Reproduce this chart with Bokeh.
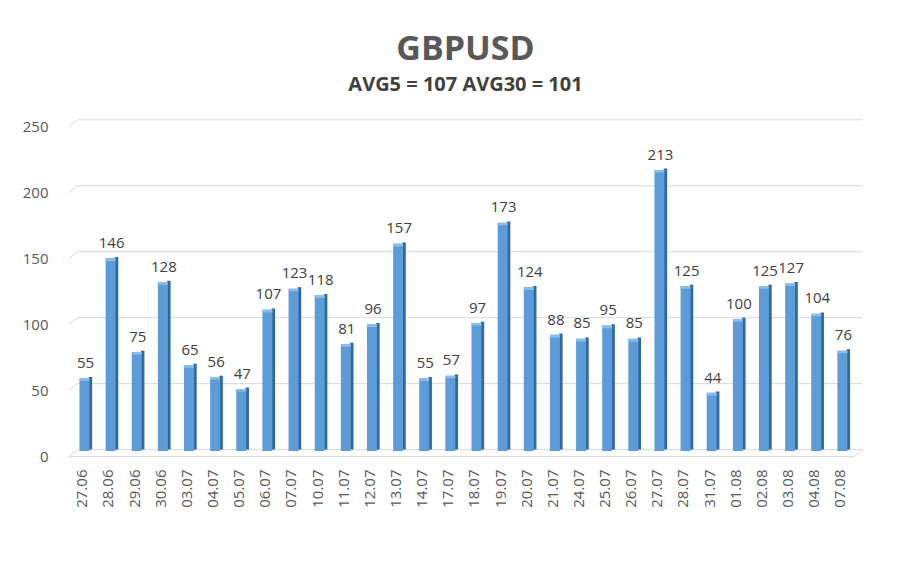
import numpy as np
from bokeh.plotting import figure
from bokeh.models import Range1d, FixedTicker, LinearAxis, Title
from bokeh.embed import file_html
from bokeh.resources import INLINE
from bokeh.core.properties import value

# ---- data ----
dates = ["27.06", "28.06", "29.06", "30.06", "03.07", "04.07", "05.07", "06.07",
         "07.07", "10.07", "11.07", "12.07", "13.07", "14.07", "17.07", "18.07",
         "19.07", "20.07", "21.07", "24.07", "25.07", "26.07", "27.07", "28.07",
         "31.07", "01.08", "02.08", "03.08", "04.08", "07.08"]
values = [55, 146, 75, 128, 65, 56, 47, 107, 123, 118, 81, 96, 157, 55, 57, 97,
          173, 124, 88, 85, 95, 85, 213, 125, 44, 100, 125, 127, 104, 76]
yticks = [0, 50, 100, 150, 200, 250]
title_text = "GBPUSD"
subtitle_text = "AVG5 = 107 AVG30 = 101"

FONT = "Open Sans"
idx = np.arange(len(values))
depth = 5.3  # perspective depth in y units
xr = (-0.65, 29.73)

p = figure(frame_width=794, frame_height=339,
           x_range=Range1d(*xr), y_range=Range1d(-6, 251),
           output_backend="svg", toolbar_location=None, y_axis_location=None,
           x_axis_location=None,
           min_border_left=68, min_border_right=22, min_border_top=118,
           min_border_bottom=84, background_fill_color="white",
           border_fill_color="white", outline_line_color=None)

# titles (subtitle first -> closer to plot)
p.add_layout(Title(text=subtitle_text, align="center", text_font=FONT,
                   text_font_size="20px", text_font_style="bold",
                   text_color="#404040", standoff=44), "above")
p.add_layout(Title(text=title_text, align="center", text_font=FONT,
                   text_font_size="34px", text_font_style="bold",
                   text_color="#595959", standoff=-48), "above")

# grid + wall edges
n = len(yticks)
p.segment(x0=[-0.31] * n, y0=yticks, x1=[xr[1]] * n, y1=yticks,
          line_color="#d9d9d9", line_width=1)
p.segment(x0=[xr[0]] * n, y0=[t - depth for t in yticks], x1=[-0.31] * n, y1=yticks,
          line_color="#d9d9d9", line_width=1)
# floor
p.segment(x0=[xr[0], 29.4], y0=[-depth, -depth], x1=[29.4, xr[1]], y1=[-depth, 0],
          line_color="#d9d9d9", line_width=1)

# bars (side + top cap + front)
p.vbar(x=idx + 0.19, width=0.13, top=values, bottom=0,
       fill_color="#2e6aa0", line_color=None)
p.vbar(x=idx - 0.04, width=0.38, top=[v - 1 for v in values], bottom=-1,
       fill_color="#5d9cd8", line_color=None)
p.vbar(x=idx - 0.04, width=0.38, top=[v - 1 for v in values],
       bottom=[v - 3 for v in values], fill_color="#8cbde9", line_color=None)

# value labels
p.text(x=idx, y=values, text=[str(v) for v in values], text_align="center",
       text_baseline="alphabetic", y_offset=-14, text_font=value(FONT),
       text_font_size="15px", text_color="#404040")

# y axis on shifted range so labels sit at the wall's front edge
p.extra_y_ranges = {"lab": Range1d(-6 + depth, 251 + depth)}
yax = LinearAxis(y_range_name="lab", ticker=FixedTicker(ticks=yticks))
yax.axis_line_color = None
yax.major_tick_line_color = None
yax.minor_tick_line_color = None
yax.major_label_text_color = "#595959"
yax.major_label_text_font = FONT
yax.major_label_text_font_size = "15px"
yax.major_label_standoff = 14
p.add_layout(yax, "left")

# x axis, labels nudged slightly left of bar centre
p.extra_x_ranges = {"xlab": Range1d(xr[0] + 0.12, xr[1] + 0.12)}
xax = LinearAxis(x_range_name="xlab", ticker=FixedTicker(ticks=list(idx)))
xax.major_label_overrides = {int(i): d for i, d in zip(idx, dates)}
xax.major_label_orientation = np.pi / 2
xax.axis_line_color = None
xax.major_tick_line_color = None
xax.minor_tick_line_color = None
xax.major_label_text_color = "#595959"
xax.major_label_text_font = FONT
xax.major_label_text_font_size = "15px"
xax.major_label_standoff = 6
p.add_layout(xax, "below")

p.xgrid.visible = False
p.ygrid.visible = False

open("out.html", "w").write(file_html(p, INLINE))
